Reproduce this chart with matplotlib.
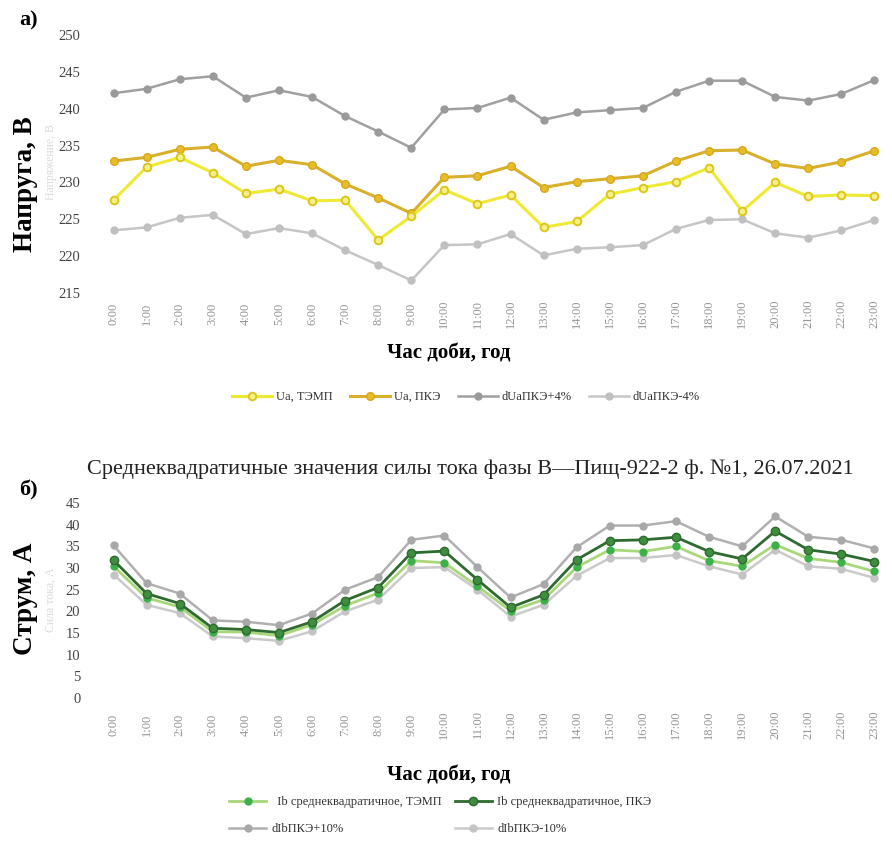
import matplotlib
matplotlib.use('Agg')
import matplotlib.pyplot as plt

plt.rcParams['font.family'] = ['Liberation Serif', 'DejaVu Serif']

hours = ['{}:00'.format(h) for h in range(24)]

# voltage, phase A
ua_temp = [227.6, 232.1, 233.4, 231.3, 228.5, 229.1, 227.5, 227.6, 222.2, 225.4, 229.0, 227.1,
           228.3, 223.9, 224.7, 228.4, 229.3, 230.1, 232.0, 226.1, 230.0, 228.1, 228.3, 228.2]
ua_pke = [232.9, 233.4, 234.5, 234.8, 232.2, 233.0, 232.4, 229.8, 227.9, 225.8, 230.7, 230.9,
          232.2, 229.3, 230.1, 230.5, 230.9, 232.9, 234.3, 234.4, 232.5, 231.9, 232.8, 234.3]
ua_plus4 = [242.1, 242.7, 244.0, 244.4, 241.5, 242.5, 241.6, 239.0, 236.9, 234.7, 239.9, 240.1,
            241.5, 238.5, 239.5, 239.8, 240.1, 242.3, 243.8, 243.8, 241.6, 241.1, 242.0, 243.9]
ua_minus4 = [223.5, 223.9, 225.2, 225.6, 223.0, 223.8, 223.1, 220.8, 218.8, 216.7, 221.5, 221.6,
             223.0, 220.1, 221.0, 221.2, 221.5, 223.7, 224.9, 225.0, 223.1, 222.5, 223.5, 224.9]

# current, phase B
ib_temp = [30.4, 23.1, 21.0, 15.3, 15.2, 14.4, 16.9, 21.3, 24.2, 31.7, 31.2, 25.8,
           20.1, 22.7, 30.2, 34.2, 33.8, 35.0, 31.7, 30.4, 35.4, 32.2, 31.3, 29.2]
ib_pke = [31.8, 24.1, 21.8, 16.1, 15.8, 15.1, 17.6, 22.5, 25.5, 33.5, 33.9, 27.3,
          20.9, 23.8, 31.9, 36.3, 36.5, 37.1, 33.8, 32.1, 38.5, 34.2, 33.2, 31.5]
ib_plus10 = [35.2, 26.5, 24.1, 17.9, 17.6, 16.8, 19.5, 25.0, 27.9, 36.5, 37.5, 30.2,
             23.2, 26.3, 34.8, 39.8, 39.8, 40.8, 37.2, 35.0, 41.9, 37.2, 36.5, 34.5]
ib_minus10 = [28.5, 21.5, 19.6, 14.2, 13.8, 13.2, 15.4, 20.0, 22.7, 30.0, 30.2, 25.0,
              18.8, 21.5, 28.2, 32.3, 32.3, 33.0, 30.4, 28.5, 34.2, 30.4, 29.8, 27.7]

W, H = 892, 850
fig = plt.figure(figsize=(W / 100, H / 100), dpi=100)


def px_axes(left, top, right, bottom):
    return fig.add_axes([left / W, 1 - bottom / H, (right - left) / W, (bottom - top) / H])


def style(ax, ymin, ymax, step):
    ax.set_xlim(-0.5, 23.5)
    ax.set_ylim(ymin, ymax)
    ax.set_yticks(range(ymin, ymax + 1, step))
    ax.set_xticks(range(24))
    ax.set_xticklabels(hours, rotation=90, va='center', fontsize=9, color='#959595')
    for s in ax.spines.values():
        s.set_visible(False)
    ax.tick_params(length=0)
    ax.tick_params(axis='y', labelsize=10.5, labelcolor='#444444', pad=12)


x = list(range(24))

# ---- a) voltage
ax1 = px_axes(97, 35, 891, 293)
style(ax1, 215, 250, 5)
ax1.tick_params(axis='x', pad=15)
ax1.plot(x, ua_temp, color='#eeea34', lw=2.2, marker='o', ms=5.5, mfc='#f6f08a',
         mec='#dcc51c', mew=1.4, label='Ua, ТЭМП', zorder=4)
ax1.plot(x, ua_pke, color='#d8b02c', lw=2.2, marker='o', ms=5.5, mfc='#e8bd2a',
         mec='#d8a81c', mew=1.0, label='Ua, ПКЭ', zorder=3)
ax1.plot(x, ua_plus4, color='#a0a0a0', lw=1.8, marker='o', ms=5, mfc='#9a9a9a',
         mec='#9a9a9a', label='dUaПКЭ+4%')
ax1.plot(x, ua_minus4, color='#c6c6c6', lw=1.8, marker='o', ms=5, mfc='#c0c0c0',
         mec='#c0c0c0', label='dUaПКЭ-4%')

fig.text(29 / W, 1 - 20 / H, 'а)', fontsize=16, fontweight='bold', ha='center', va='center')
fig.text(51 / W, 1 - 162 / H, 'Напряжение, В', fontsize=8.5, color='#dadada',
         rotation=90, ha='center', va='center')
fig.text(25 / W, 1 - 184 / H, 'Напруга, В', fontsize=19.5, fontweight='bold',
         rotation=90, ha='center', va='center')
fig.text(449 / W, 1 - 353 / H, 'Час доби, год', fontsize=15, fontweight='bold',
         ha='center', va='center')
fig.legend(handles=ax1.get_lines(), loc='center', bbox_to_anchor=(466 / W, 1 - 397 / H),
           ncol=4, frameon=False, fontsize=9, handlelength=3.2, handletextpad=0.3,
           columnspacing=1.4, labelcolor='#333333')

# ---- b) current
ax2 = px_axes(97, 503, 891, 698)
style(ax2, 0, 45, 5)
ax2.tick_params(axis='x', pad=19)
l_minus = ax2.plot(x, ib_minus10, color='#cacaca', lw=1.8, marker='o', ms=5,
                   mfc='#c4c4c4', mec='#c4c4c4', label='dIbПКЭ-10%')[0]
l_plus = ax2.plot(x, ib_plus10, color='#b0b0b0', lw=1.8, marker='o', ms=5,
                  mfc='#a8a8a8', mec='#a8a8a8', label='dIbПКЭ+10%')[0]
l_temp = ax2.plot(x, ib_temp, color='#a8d77a', lw=2.0, marker='o', ms=5,
                  mfc='#3eb04a', mec='#3eb04a', label='  Ib среднеквадратичное, ТЭМП')[0]
l_pke = ax2.plot(x, ib_pke, color='#2f6a30', lw=2.0, marker='o', ms=6,
                 mfc='#3f8e3f', mec='#2f6a30', label='Ib среднеквадратичное, ПКЭ')[0]

fig.text(470 / W, 1 - 469 / H,
         'Среднеквадратичные значения силы тока фазы В—Пищ-922-2 ф. №1, 26.07.2021',
         fontsize=16, color='#222222', ha='center', va='center')
fig.text(28 / W, 1 - 490 / H, 'б)', fontsize=16, fontweight='bold', ha='center', va='center')
fig.text(51 / W, 1 - 600 / H, 'Сила тока, А', fontsize=8.5, color='#dadada',
         rotation=90, ha='center', va='center')
fig.text(25 / W, 1 - 599 / H, 'Струм, А', fontsize=19.5, fontweight='bold',
         rotation=90, ha='center', va='center')
fig.text(449 / W, 1 - 775 / H, 'Час доби, год', fontsize=15, fontweight='bold',
         ha='center', va='center')
fig.legend(handles=[l_temp, l_plus, l_pke, l_minus], loc='center',
           bbox_to_anchor=(440 / W, 1 - 816 / H), ncol=2, frameon=False, fontsize=9,
           handlelength=3.0, handletextpad=0.4, columnspacing=1.0, labelspacing=1.2,
           labelcolor='#333333')

fig.savefig('out.png', dpi=100)
